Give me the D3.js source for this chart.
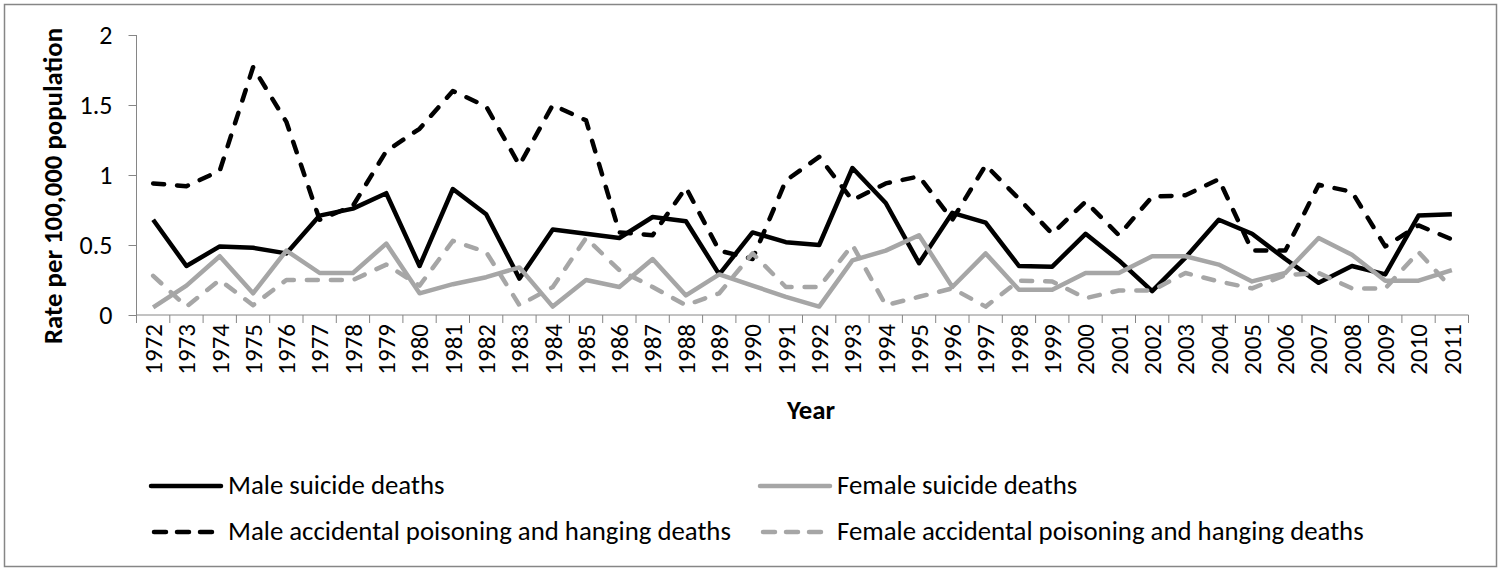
<!DOCTYPE html>
<html>
<head>
<meta charset="utf-8">
<script src="https://cdn.jsdelivr.net/npm/d3@7"></script>
<style>
  html, body { margin: 0; padding: 0; background: #fff; }
  svg { display: block; }
  text { font-family: Carlito, Lato, "Liberation Sans", sans-serif; fill: #000; }
</style>
</head>
<body>
<svg id="chart" width="1504" height="569"></svg>
<script>
const years = ["1972","1973","1974","1975","1976","1977","1978","1979","1980","1981",
  "1982","1983","1984","1985","1986","1987","1988","1989","1990","1991",
  "1992","1993","1994","1995","1996","1997","1998","1999","2000","2001",
  "2002","2003","2004","2005","2006","2007","2008","2009","2010","2011"];

const maleSuicide = [0.68,0.35,0.49,0.48,0.44,0.71,0.76,0.87,0.35,0.90,
  0.72,0.26,0.61,0.58,0.55,0.70,0.67,0.29,0.59,0.52,
  0.50,1.05,0.80,0.37,0.73,0.66,0.35,0.345,0.58,0.39,
  0.17,0.41,0.68,0.58,0.40,0.23,0.35,0.29,0.71,0.72];

const femaleSuicide = [0.055,0.21,0.42,0.155,0.46,0.30,0.30,0.51,0.155,0.22,
  0.27,0.34,0.06,0.25,0.20,0.40,0.14,0.29,0.21,0.13,
  0.06,0.39,0.46,0.57,0.20,0.44,0.18,0.18,0.30,0.30,
  0.42,0.42,0.36,0.24,0.30,0.55,0.43,0.245,0.245,0.32];

const maleAccidental = [0.94,0.92,1.03,1.77,1.38,0.68,0.78,1.17,1.33,1.60,
  1.49,1.07,1.50,1.39,0.59,0.57,0.91,0.46,0.40,0.96,
  1.13,0.82,0.94,0.99,0.68,1.07,0.83,0.58,0.81,0.57,
  0.845,0.855,0.97,0.46,0.46,0.93,0.88,0.49,0.64,0.54];

const femaleAccidental = [0.28,0.06,0.25,0.07,0.25,0.25,0.25,0.36,0.21,0.53,
  0.45,0.07,0.20,0.55,0.32,0.20,0.07,0.155,0.44,0.20,
  0.20,0.50,0.07,0.13,0.19,0.06,0.245,0.24,0.12,0.175,
  0.175,0.30,0.24,0.19,0.285,0.30,0.19,0.19,0.45,0.19];

const yTicks = [0, 0.5, 1, 1.5, 2];
const seriesNames = ["Male suicide deaths","Female suicide deaths",
  "Male accidental poisoning and hanging deaths","Female accidental poisoning and hanging deaths"];

const series = [
  {name: seriesNames[0], values: maleSuicide, color: "#000000", dash: null},
  {name: seriesNames[1], values: femaleSuicide, color: "#a6a6a6", dash: null},
  {name: seriesNames[2], values: maleAccidental, color: "#000000", dash: "11,13"},
  {name: seriesNames[3], values: femaleAccidental, color: "#a6a6a6", dash: "11,13"}
];

const svg = d3.select("#chart");
const axisColor = "#868686";
const fs = 25;
const fsBig = 26.8;

// outer border
svg.append("rect").attr("x", 4.5).attr("y", 4.5).attr("width", 1492).attr("height", 562)
  .attr("fill", "#fff").attr("stroke", axisColor).attr("stroke-width", 1.5);

const plotL = 136.5, plotR = 1468.5, plotT = 35, plotB = 315;

const xBand = d3.scaleBand().domain(years).range([plotL, plotR]).padding(0);
const xc = d => xBand(d) + xBand.bandwidth() / 2;
const yScale = d3.scaleLinear().domain([0, 2]).range([plotB, plotT]);

// Y axis
const yAxis = d3.axisLeft(yScale).tickValues(yTicks).tickFormat(d => String(d)).tickSize(8).tickPadding(16);
const gy = svg.append("g").attr("transform", `translate(${plotL},0)`).call(yAxis);
gy.select(".domain").attr("stroke", axisColor).attr("d", `M0,${plotT}V${plotB + 8}`);
gy.selectAll(".tick line").attr("stroke", axisColor);
gy.selectAll(".tick text").attr("font-size", 26).attr("font-family", "Carlito, Lato, sans-serif").attr("fill", "#000");

// X axis line
svg.append("line").attr("x1", plotL).attr("x2", plotR).attr("y1", plotB).attr("y2", plotB)
  .attr("stroke", axisColor);
// X ticks at band boundaries
const boundaries = years.map(d => xBand(d)).concat([xBand(years[years.length - 1]) + xBand.bandwidth()]);
svg.append("g").selectAll("line").data(boundaries).join("line")
  .attr("x1", d => d).attr("x2", d => d)
  .attr("y1", plotB).attr("y2", plotB + 8).attr("stroke", axisColor);
// X labels
svg.append("g").selectAll("text").data(years).join("text")
  .attr("transform", d => `translate(${xc(d)},${plotB + 9}) rotate(-90)`)
  .attr("text-anchor", "end").attr("dy", "0.35em").attr("font-size", fs).text(d => d);

// Axis titles
svg.append("text").attr("transform", `translate(62,186) rotate(-90)`)
  .attr("text-anchor", "middle").attr("font-size", fsBig).attr("font-weight", "bold")
  .text("Rate per 100,000 population");
svg.append("text").attr("x", 811).attr("y", 419)
  .attr("text-anchor", "middle").attr("font-size", fsBig).attr("font-weight", "bold").text("Year");

// Lines
const line = d3.line().x((d, i) => xc(years[i])).y(d => yScale(d));
svg.append("g").selectAll("path").data(series).join("path")
  .attr("d", d => line(d.values))
  .attr("fill", "none").attr("stroke", d => d.color).attr("stroke-width", 4.5)
  .attr("stroke-linejoin", "round")
  .attr("stroke-linecap", d => d.dash ? "round" : "butt")
  .attr("stroke-dasharray", d => d.dash);

// Legend
const legendPos = [
  {lx: 151, tx: 228, y: 486},
  {lx: 760, tx: 837, y: 486},
  {lx: 151, tx: 228, y: 532},
  {lx: 760, tx: 837, y: 532}
];
const lg = svg.append("g").selectAll("g").data(series).join("g");
lg.append("line")
  .attr("x1", (d, i) => legendPos[i].lx + (d.dash ? 3 : 0))
  .attr("x2", (d, i) => legendPos[i].lx + 70)
  .attr("y1", (d, i) => legendPos[i].y).attr("y2", (d, i) => legendPos[i].y)
  .attr("stroke", d => d.color).attr("stroke-width", 4.5)
  .attr("stroke-linecap", "round")
  .attr("stroke-dasharray", d => d.dash ? "12,11" : null);
lg.append("text")
  .attr("x", (d, i) => legendPos[i].tx).attr("y", (d, i) => legendPos[i].y + 8)
  .attr("font-size", fsBig).text(d => d.name);
</script>
</body>
</html>
